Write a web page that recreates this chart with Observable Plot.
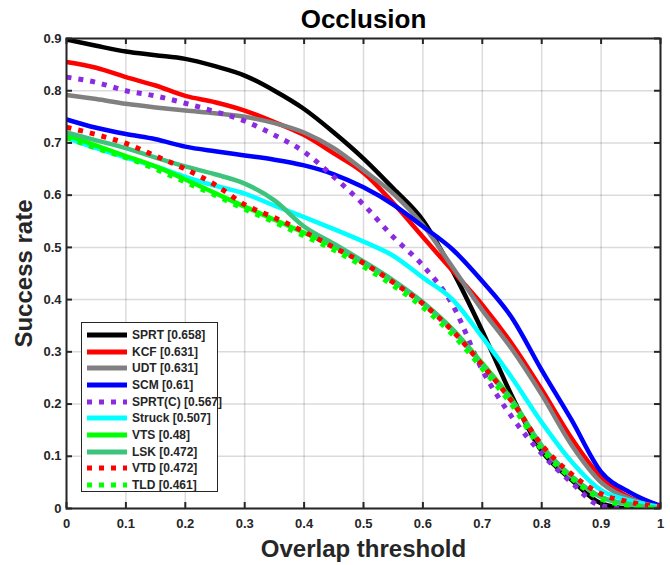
<!DOCTYPE html>
<html><head><meta charset="utf-8">
<script src="https://cdn.jsdelivr.net/npm/d3@7"></script>
<script src="https://cdn.jsdelivr.net/npm/@observablehq/plot@0.6"></script>
<style>
body{margin:0;background:#fff;}
#wrap{position:relative;width:670px;height:565px;font-family:"Liberation Sans",Arial,Helvetica,sans-serif;}
#legend{position:absolute;left:81px;top:322px;width:137px;height:170px;border:1.5px solid #262626;background:#fff;overflow:visible;box-sizing:border-box;}
.row{position:absolute;left:5px;height:16px;display:flex;align-items:center;font-weight:bold;font-size:12px;color:#262626;white-space:nowrap;}
.row svg{margin-right:5px;}
</style></head><body><div id="wrap"></div>
<script>
const thresholds = [0,0.05,0.1,0.15,0.2,0.25,0.3,0.35,0.4,0.45,0.5,0.55,0.6,0.65,0.7,0.75,0.8,0.85,0.9,0.95,1];
const xTicks = [0,0.1,0.2,0.3,0.4,0.5,0.6,0.7,0.8,0.9,1];
const yTicks = [0,0.1,0.2,0.3,0.4,0.5,0.6,0.7,0.8,0.9];

const trackers = ["SPRT","KCF","UDT","SCM","SPRT(C)","Struck","VTS","LSK","VTD","TLD"];
const scores   = ["0.658","0.631","0.631","0.61","0.567","0.507","0.48","0.472","0.472","0.461"];
const colors   = ["#000000","#ff0000","#808080","#0000ff","#8a2be2","#00ffff","#00ff00","#3cc47c","#ff0000","#00ff00"];
const dotted   = [false,false,false,false,true,false,false,false,true,true];

const SPRT   = [0.898,0.886,0.875,0.868,0.861,0.847,0.829,0.800,0.765,0.720,0.670,0.613,0.552,0.455,0.340,0.215,0.110,0.055,0.010,0.000,0.000];
const KCF    = [0.855,0.844,0.826,0.810,0.790,0.778,0.762,0.740,0.715,0.680,0.643,0.585,0.520,0.455,0.390,0.315,0.228,0.135,0.060,0.020,0.005];
const UDT    = [0.792,0.784,0.775,0.768,0.762,0.757,0.750,0.738,0.720,0.690,0.648,0.603,0.543,0.462,0.380,0.305,0.218,0.122,0.050,0.018,0.004];
const SCM    = [0.745,0.729,0.717,0.707,0.693,0.684,0.676,0.668,0.657,0.640,0.615,0.582,0.540,0.496,0.435,0.365,0.265,0.170,0.070,0.030,0.005];
const SPRTC  = [0.826,0.816,0.800,0.790,0.776,0.760,0.742,0.715,0.683,0.635,0.582,0.520,0.465,0.390,0.265,0.175,0.105,0.050,0.005,0.000,0.000];
const Struck = [0.710,0.690,0.672,0.655,0.635,0.618,0.603,0.580,0.558,0.535,0.511,0.484,0.442,0.400,0.328,0.250,0.165,0.090,0.035,0.015,0.003];
const VTS    = [0.715,0.695,0.675,0.655,0.630,0.604,0.578,0.553,0.528,0.502,0.470,0.435,0.394,0.343,0.278,0.208,0.120,0.062,0.022,0.007,0.000];
const LSK    = [0.720,0.705,0.690,0.672,0.655,0.640,0.622,0.590,0.540,0.507,0.473,0.437,0.395,0.342,0.275,0.205,0.120,0.062,0.022,0.008,0.000];
const VTD    = [0.730,0.716,0.699,0.675,0.650,0.620,0.582,0.557,0.530,0.500,0.470,0.433,0.392,0.340,0.275,0.205,0.122,0.066,0.028,0.012,0.004];
const TLD    = [0.710,0.690,0.672,0.650,0.625,0.600,0.573,0.548,0.522,0.495,0.463,0.427,0.385,0.333,0.268,0.198,0.113,0.058,0.018,0.005,0.000];

const seriesValues = [SPRT,KCF,UDT,SCM,SPRTC,Struck,VTS,LSK,VTD,TLD];
const fmt = d => String(+(+d).toFixed(1));
const AX = "#262626";

const lineMarks = seriesValues.map((vals,i) => Plot.line(thresholds.map((t,j)=>({t, v: vals[j]})), {
  x: "t", y: "v", stroke: colors[i], strokeWidth: dotted[i] ? 5 : 4.5,
  strokeDasharray: dotted[i] ? "5,7" : null, strokeLinecap: "butt", strokeLinejoin: "round",
  curve: "monotone-x", clip: true
}));

const plot = Plot.plot({
  width: 670, height: 565,
  marginLeft: 66, marginRight: 10, marginTop: 38, marginBottom: 57,
  x: {domain: [0,1]},
  y: {domain: [0,0.9]},
  style: {fontFamily: '"Liberation Sans",Arial,Helvetica,sans-serif', fontSize: "13px", fontWeight: "bold", color: AX, background: "#fff", overflow: "visible"},
  marks: [
    Plot.gridX(xTicks, {stroke: "#000", strokeOpacity: 0.14, strokeWidth: 1.5}),
    Plot.gridY(yTicks, {stroke: "#000", strokeOpacity: 0.14, strokeWidth: 1.5}),
    ...lineMarks,
    Plot.ruleX(xTicks, {x: d=>d, insetTop: 464, stroke: AX, strokeWidth: 2}),
    Plot.ruleX(xTicks, {x: d=>d, insetBottom: 464, stroke: AX, strokeWidth: 2}),
    Plot.ruleY(yTicks, {y: d=>d, insetRight: 588, stroke: AX, strokeWidth: 2}),
    Plot.ruleY(yTicks, {y: d=>d, insetLeft: 588, stroke: AX, strokeWidth: 2}),
    Plot.frame({stroke: AX, strokeWidth: 2}),
    Plot.axisX(xTicks, {tickSize: 0, tickPadding: 10, tickFormat: fmt, label: null, fontWeight: "bold"}),
    Plot.axisY(yTicks, {tickSize: 0, tickPadding: 5, tickFormat: fmt, label: null, fontWeight: "bold"}),
    Plot.text(["Occlusion"], {text: d=>d, frameAnchor: "top", lineAnchor: "bottom", dy: -11, fontSize: 26, fontWeight: "bold", fill: "#000"}),
    Plot.text(["Overlap threshold"], {text: d=>d, frameAnchor: "bottom", lineAnchor: "top", dy: 31, fontSize: 24, fontWeight: "bold", fill: AX}),
    Plot.text(["Success rate"], {text: d=>d, frameAnchor: "left", textAnchor: "middle", lineAnchor: "middle", rotate: -90, dx: -42, fontSize: 24, fontWeight: "bold", fill: AX})
  ]
});
const wrap = document.getElementById("wrap");
wrap.appendChild(plot);

const legend = document.createElement("div");
legend.id = "legend";
trackers.forEach((name,i) => {
  const row = document.createElement("div");
  row.className = "row";
  row.style.top = (4 + i*16.67) + "px";
  const dash = dotted[i] ? 'stroke-dasharray="5,7"' : '';
  row.innerHTML = `<svg width="40" height="8"><line x1="0" y1="4" x2="40" y2="4" stroke="${colors[i]}" stroke-width="5" ${dash}/></svg><span>${name} [${scores[i]}]</span>`;
  legend.appendChild(row);
});
wrap.appendChild(legend);
</script>
</body></html>
